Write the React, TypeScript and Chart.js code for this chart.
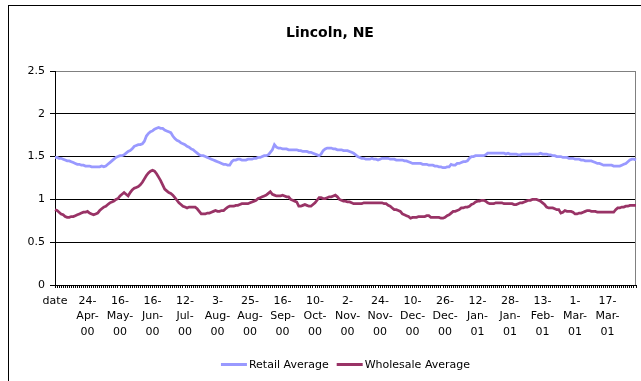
import React, { useEffect, useRef } from 'react';
import { Chart, registerables } from 'chart.js';

Chart.register(...registerables);

const chartTitle = 'Lincoln, NE';
const retailName = 'Retail Average';
const wholesaleName = 'Wholesale Average';

// Labelled categories: one every 16 rows of the sheet (the header cell "date" comes first).
const tickLabels = [
  'date', '24-Apr-00', '16-May-00', '16-Jun-00', '12-Jul-00', '3-Aug-00', '25-Aug-00',
  '16-Sep-00', '10-Oct-00', '2-Nov-00', '24-Nov-00', '10-Dec-00', '26-Dec-00',
  '12-Jan-01', '28-Jan-01', '13-Feb-01', '1-Mar-01', '17-Mar-01',
];
const labelEvery = 16;

const yMin = 0;
const yMax = 2.5;
const yStep = 0.5;

const retail = [
  1.49, 1.49, 1.48, 1.48, 1.47, 1.46, 1.45, 1.45, 1.44, 1.43,
  1.42, 1.41, 1.41, 1.40, 1.40, 1.39, 1.39, 1.39, 1.38, 1.38,
  1.38, 1.38, 1.38, 1.39, 1.38, 1.39, 1.41, 1.43, 1.45, 1.47,
  1.49, 1.50, 1.51, 1.51, 1.52, 1.54, 1.56, 1.57, 1.59, 1.62,
  1.63, 1.64, 1.64, 1.65, 1.68, 1.74, 1.77, 1.79, 1.80, 1.82,
  1.83, 1.84, 1.83, 1.83, 1.81, 1.80, 1.79, 1.78, 1.74, 1.71,
  1.69, 1.68, 1.66, 1.65, 1.64, 1.62, 1.61, 1.59, 1.58, 1.56,
  1.54, 1.52, 1.51, 1.51, 1.50, 1.49, 1.48, 1.47, 1.46, 1.45,
  1.44, 1.43, 1.42, 1.41, 1.41, 1.40, 1.40, 1.44, 1.46, 1.46,
  1.47, 1.47, 1.46, 1.46, 1.46, 1.47, 1.47, 1.47, 1.48, 1.48,
  1.49, 1.49, 1.50, 1.51, 1.51, 1.52, 1.55, 1.58, 1.64, 1.61,
  1.60, 1.60, 1.59, 1.59, 1.59, 1.58, 1.58, 1.58, 1.58, 1.58,
  1.57, 1.57, 1.56, 1.56, 1.56, 1.55, 1.55, 1.54, 1.53, 1.52,
  1.51, 1.53, 1.57, 1.59, 1.60, 1.60, 1.60, 1.59, 1.59, 1.58,
  1.58, 1.58, 1.57, 1.57, 1.57, 1.56, 1.55, 1.54, 1.52, 1.50,
  1.49, 1.48, 1.48, 1.47, 1.47, 1.47, 1.48, 1.47, 1.47, 1.46,
  1.47, 1.48, 1.48, 1.48, 1.48, 1.47, 1.47, 1.47, 1.46, 1.46,
  1.46, 1.46, 1.45, 1.45, 1.44, 1.43, 1.42, 1.42, 1.42, 1.42,
  1.42, 1.41, 1.41, 1.41, 1.40, 1.40, 1.40, 1.39, 1.39, 1.38,
  1.38, 1.37, 1.37, 1.38, 1.38, 1.41, 1.40, 1.40, 1.42, 1.42,
  1.43, 1.44, 1.44, 1.45, 1.48, 1.50, 1.50, 1.51, 1.51, 1.51,
  1.51, 1.51, 1.52, 1.54, 1.54, 1.54, 1.54, 1.54, 1.54, 1.54,
  1.54, 1.54, 1.53, 1.54, 1.53, 1.53, 1.53, 1.53, 1.52, 1.52,
  1.53, 1.53, 1.53, 1.53, 1.53, 1.53, 1.53, 1.53, 1.53, 1.54,
  1.53, 1.53, 1.53, 1.52, 1.52, 1.51, 1.51, 1.50, 1.50, 1.50,
  1.49, 1.49, 1.49, 1.48, 1.48, 1.48, 1.47, 1.47, 1.47, 1.46,
  1.46, 1.45, 1.45, 1.45, 1.45, 1.44, 1.43, 1.42, 1.42, 1.41,
  1.40, 1.40, 1.40, 1.40, 1.40, 1.39, 1.39, 1.39, 1.39, 1.40,
  1.41, 1.42, 1.44, 1.46, 1.47, 1.47, 1.46,
];

const wholesale = [
  0.88, 0.87, 0.85, 0.83, 0.82, 0.80, 0.79, 0.79, 0.80, 0.80,
  0.81, 0.82, 0.83, 0.84, 0.85, 0.85, 0.86, 0.84, 0.83, 0.82,
  0.83, 0.84, 0.87, 0.89, 0.91, 0.92, 0.94, 0.96, 0.97, 0.98,
  1.00, 1.01, 1.04, 1.06, 1.08, 1.06, 1.04, 1.08, 1.11, 1.13,
  1.14, 1.15, 1.17, 1.20, 1.24, 1.28, 1.31, 1.33, 1.34, 1.33,
  1.30, 1.26, 1.22, 1.17, 1.12, 1.10, 1.08, 1.07, 1.05, 1.02,
  0.99, 0.96, 0.94, 0.92, 0.91, 0.90, 0.91, 0.91, 0.91, 0.91,
  0.89, 0.86, 0.83, 0.83, 0.83, 0.84, 0.84, 0.85, 0.86, 0.87,
  0.86, 0.86, 0.87, 0.87, 0.89, 0.91, 0.92, 0.92, 0.92, 0.93,
  0.93, 0.94, 0.95, 0.95, 0.95, 0.95, 0.96, 0.97, 0.98, 0.99,
  1.01, 1.02, 1.03, 1.04, 1.05, 1.07, 1.09, 1.06, 1.05, 1.04,
  1.04, 1.04, 1.05, 1.04, 1.03, 1.03, 1.00, 0.99, 0.98, 0.97,
  0.92, 0.92, 0.93, 0.94, 0.93, 0.92, 0.92, 0.94, 0.96, 0.99,
  1.02, 1.02, 1.01, 1.01, 1.02, 1.03, 1.03, 1.04, 1.05, 1.03,
  1.00, 0.99, 0.98, 0.98, 0.97, 0.97, 0.96, 0.95, 0.95, 0.95,
  0.95, 0.95, 0.96, 0.96, 0.96, 0.96, 0.96, 0.96, 0.96, 0.96,
  0.96, 0.96, 0.95, 0.95, 0.93, 0.92, 0.90, 0.88, 0.88, 0.87,
  0.86, 0.83, 0.82, 0.81, 0.80, 0.78, 0.79, 0.79, 0.79, 0.80,
  0.80, 0.80, 0.80, 0.81, 0.81, 0.79, 0.79, 0.79, 0.79, 0.79,
  0.78, 0.78, 0.79, 0.81, 0.82, 0.84, 0.86, 0.86, 0.87, 0.88,
  0.90, 0.90, 0.91, 0.91, 0.92, 0.94, 0.95, 0.97, 0.98, 0.98,
  0.99, 0.99, 0.98, 0.96, 0.95, 0.95, 0.95, 0.96, 0.96, 0.96,
  0.96, 0.95, 0.95, 0.95, 0.95, 0.95, 0.94, 0.94, 0.95, 0.96,
  0.96, 0.97, 0.98, 0.99, 0.99, 1.00, 1.00, 1.00, 0.99, 0.98,
  0.96, 0.94, 0.91, 0.90, 0.90, 0.90, 0.89, 0.88, 0.88, 0.84,
  0.85, 0.87, 0.86, 0.86, 0.86, 0.85, 0.83, 0.83, 0.84, 0.84,
  0.85, 0.86, 0.87, 0.87, 0.86, 0.86, 0.86, 0.85, 0.85, 0.85,
  0.85, 0.85, 0.85, 0.85, 0.85, 0.85, 0.88, 0.90, 0.90, 0.91,
  0.91, 0.92, 0.92, 0.93, 0.93, 0.93, 0.93,
];

const retailColor = '#9999FF';
const wholesaleColor = '#993366';
const FONT = '"DejaVu Sans", Verdana, sans-serif';

// One category per row; only every 16th row carries a visible label.
const categories = retail.map((_, i) =>
  i % labelEvery === 0 ? tickLabels[i / labelEvery] ?? '' : ''
);

const splitDate = (s: string): string | string[] => {
  if (!s || s === 'date') return s;
  const [d, m, y] = s.split('-');
  return [d + '-', m + '-', y];
};

// Title, legend and the right edge of the plot frame.
const decorations = {
  id: 'decorations',
  beforeDatasetsDraw(chart: any) {
    const { ctx, chartArea } = chart;
    ctx.save();
    ctx.strokeStyle = '#808080';
    ctx.lineWidth = 1;
    ctx.beginPath();
    ctx.moveTo(chartArea.right - 0.5, chartArea.top);
    ctx.lineTo(chartArea.right - 0.5, chartArea.bottom);
    ctx.stroke();
    ctx.restore();
  },
  afterDraw(chart: any) {
    const { ctx, chartArea } = chart;
    ctx.save();
    ctx.fillStyle = '#000';
    ctx.font = `bold 14px ${FONT}`;
    ctx.textAlign = 'center';
    ctx.textBaseline = 'alphabetic';
    ctx.fillText(chartTitle, 330, 37);

    ctx.font = `11px ${FONT}`;
    const sample = 26;
    const gap = 2;
    const itemGap = 8;
    const sets = chart.data.datasets;
    const widths = sets.map((d: any) => ctx.measureText(d.label).width);
    const total =
      widths.reduce((a: number, w: number) => a + sample + gap + w, 0) +
      itemGap * (sets.length - 1);
    let x = (chartArea.left + chartArea.right) / 2 - total / 2;
    const y = 364.5;
    sets.forEach((d: any, i: number) => {
      ctx.strokeStyle = d.borderColor;
      ctx.lineWidth = 3;
      ctx.beginPath();
      ctx.moveTo(x, y);
      ctx.lineTo(x + sample, y);
      ctx.stroke();
      ctx.textAlign = 'left';
      ctx.textBaseline = 'middle';
      ctx.fillStyle = '#000';
      ctx.fillText(d.label, x + sample + gap, y + 0.5);
      x += sample + gap + widths[i] + itemGap;
    });
    ctx.restore();
  },
};

export default function App() {
  const canvasRef = useRef<HTMLCanvasElement | null>(null);

  useEffect(() => {
    const canvas = canvasRef.current;
    if (!canvas) return;
    const chart = new Chart(canvas, {
      type: 'line',
      data: {
        labels: categories,
        datasets: [
          {
            label: retailName,
            data: retail,
            borderColor: retailColor,
            backgroundColor: retailColor,
            borderWidth: 2.75,
            pointRadius: 0,
            tension: 0,
          },
          {
            label: wholesaleName,
            data: wholesale,
            borderColor: wholesaleColor,
            backgroundColor: wholesaleColor,
            borderWidth: 2.75,
            pointRadius: 0,
            tension: 0,
          },
        ],
      },
      options: {
        responsive: false,
        animation: false,
        devicePixelRatio: 1,
        layout: { padding: { top: 71, right: 5, left: 0, bottom: 0 } },
        plugins: {
          legend: { display: false },
          title: { display: false },
          tooltip: { enabled: false },
        },
        scales: {
          x: {
            type: 'category',
            offset: false,
            afterFit: (scale: any) => {
              scale.height = 96;
            },
            border: { display: true, color: '#000', width: 1 },
            grid: {
              drawOnChartArea: false,
              drawTicks: true,
              tickLength: 3,
              color: '#000',
              lineWidth: 1,
            },
            ticks: {
              autoSkip: false,
              maxRotation: 0,
              minRotation: 0,
              padding: 5,
              color: '#000',
              font: { family: FONT, size: 11, lineHeight: 1.41 },
              callback: (_v: any, i: number) => splitDate(categories[i]),
            },
          },
          y: {
            min: yMin,
            max: yMax,
            afterFit: (scale: any) => {
              scale.width = 55;
            },
            border: { display: true, color: '#000', width: 1 },
            grid: {
              color: (c: any) => (c.tick && c.tick.value === yMax ? '#808080' : '#000'),
              tickColor: '#000',
              tickLength: 5,
              lineWidth: 1,
            },
            ticks: {
              stepSize: yStep,
              padding: 5,
              color: '#000',
              font: { family: FONT, size: 11 },
              callback: (v: any) => String(v),
            },
          },
        },
      },
      plugins: [decorations],
    });
    return () => chart.destroy();
  }, []);

  return (
    <div
      style={{
        position: 'fixed',
        left: 0,
        top: 0,
        width: 641,
        height: 381,
        overflow: 'hidden',
        background: '#fff',
      }}
    >
      <canvas
        ref={canvasRef}
        width={641}
        height={381}
        style={{ position: 'absolute', left: 0, top: 0, width: 641, height: 381 }}
      />
      <div
        style={{
          position: 'absolute',
          left: 8,
          top: 5,
          width: 700,
          height: 500,
          border: '1px solid #000',
          pointerEvents: 'none',
        }}
      />
    </div>
  );
}
